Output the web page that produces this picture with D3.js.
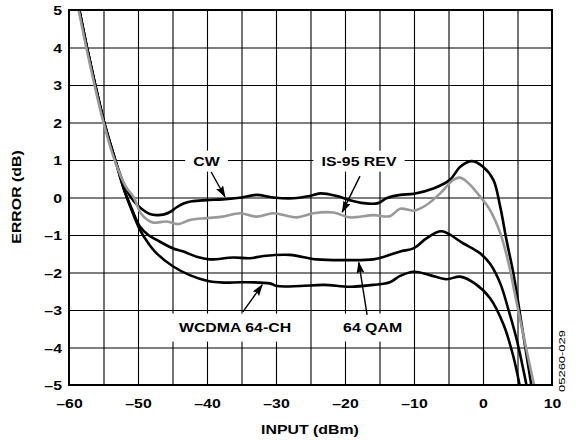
<!DOCTYPE html>
<html>
<head>
<meta charset="utf-8">
<script src="https://cdn.jsdelivr.net/npm/d3@7"></script>
<style>
  body { margin: 0; background: #fff; }
  svg { display: block; }
  text { font-family: Arial, "Liberation Sans", Helvetica, sans-serif; font-weight: bold; fill: #000; }
</style>
</head>
<body>
<svg id="chart" width="576" height="440"></svg>
<script>
// tick labels
const xTicks = [-60, -50, -40, -30, -20, -10, 0, 10];
const yTicks = [-5, -4, -3, -2, -1, 0, 1, 2, 3, 4, 5];
const xGrid = [-55, -50, -45, -40, -35, -30, -25, -20, -15, -10, -5, 0, 5];

// CW
const cwInput = [-58.5, -57.4, -56.2, -54.9, -53.3, -51.8, -50.6, -49.5, -48.3, -47.3, -46.2, -45.3, -44.4, -43.4, -42.2, -40, -37.7, -35, -32.8, -30.4, -27.5, -25.1, -23.6, -21.2, -19.3, -17.3, -15.2, -14, -12, -10, -7.2, -4.8, -3.3, -1.6, 0, 1.5, 2.5, 3.4, 4.4, 5.7, 7.0];
const cwError = [5, 4, 3, 2, 1, 0.25, -0.1, -0.3, -0.44, -0.47, -0.45, -0.38, -0.26, -0.16, -0.1, -0.07, -0.05, 0, 0.07, 0, -0.02, 0.04, 0.11, 0.04, -0.07, -0.15, -0.15, -0.02, 0.07, 0.1, 0.24, 0.47, 0.82, 0.97, 0.82, 0.47, -0.25, -1.13, -2.02, -3.5, -5];

// IS-95 REV
const is95Input = [-58.6, -57.5, -56.3, -55.0, -53.4, -51.8, -50.6, -49.6, -48.6, -47.8, -45.8, -44.2, -42.5, -40, -37.7, -35.2, -32.8, -30.4, -27, -24.6, -21.7, -19.3, -15.9, -13.5, -12, -10, -8.2, -6.2, -4.3, -3.3, -2.1, -0.4, 1.0, 2.5, 3.7, 4.6, 6.0, 7.4];
const is95Error = [5, 4, 3, 2, 1, 0.3, 0, -0.42, -0.6, -0.67, -0.64, -0.71, -0.6, -0.55, -0.51, -0.42, -0.51, -0.42, -0.53, -0.42, -0.4, -0.53, -0.47, -0.5, -0.3, -0.35, -0.2, 0.11, 0.47, 0.53, 0.38, 0.02, -0.33, -0.95, -1.75, -2.55, -3.8, -5];

// 64 QAM
const qamInput = [-58.5, -57.4, -56.2, -54.9, -53.3, -52.0, -50.9, -49.7, -48.5, -47.3, -44.9, -43.4, -41.5, -39.6, -36.2, -33.8, -31.8, -28, -24.1, -19.8, -15.9, -14, -12, -10, -8.2, -6.0, -2.9, -0.4, 1.0, 2.5, 3.7, 4.9, 6.3];
const qamError = [5, 4, 3, 2, 1, 0.2, -0.3, -0.78, -1.0, -1.13, -1.36, -1.44, -1.58, -1.65, -1.6, -1.62, -1.56, -1.53, -1.65, -1.67, -1.65, -1.56, -1.44, -1.35, -1.09, -0.9, -1.22, -1.49, -1.76, -2.29, -3.0, -3.8, -5];

// WCDMA 64-CH
const wcdmaInput = [-58.5, -57.4, -56.2, -54.9, -53.3, -52.0, -50.9, -49.7, -48.5, -47.3, -44.9, -42.5, -40, -37.6, -35, -30.9, -29.9, -26.5, -23.1, -19.3, -15.9, -13.5, -12, -10, -7.7, -5.3, -3.3, -1.2, 1, 3, 4.4, 5.3];
const wcdmaError = [5, 4, 3, 2, 1, 0.2, -0.35, -0.87, -1.22, -1.49, -1.84, -2.07, -2.22, -2.27, -2.26, -2.29, -2.36, -2.36, -2.33, -2.38, -2.33, -2.26, -2.09, -1.98, -2.07, -2.18, -2.11, -2.29, -2.68, -3.4, -4.24, -5];

// labels: text, centre (input, error), arrow start, arrow tip
const labelNames = ["CW", "IS-95 REV", "WCDMA 64-CH", "64 QAM"];
const labelAt = [[-40.07, 0.97], [-17.97, 0.97], [-35.94, -3.47], [-16.0, -3.47]];
const arrowFrom = [[-39.4, 0.68], [-17.83, 0.57], [-34.8, -3.05], [-16.8, -3.13]];
const arrowTo = [[-37.4, 0.02], [-20.4, -0.39], [-32.0, -2.33], [-18.0, -1.73]];

const stretch = 1.22;
const svg = d3.select("#chart");
const margin = { top: 10, left: 69 };
const width = 483, height = 375;

const x = d3.scaleLinear().domain([-60, 10]).range([0, width]);
const y = d3.scaleLinear().domain([-5, 5]).range([height, 0]);

const g = svg.append("g").attr("transform", `translate(${margin.left},${margin.top})`);

//grid
g.append("g")
  .attr("transform", `translate(0,${height})`)
  .call(d3.axisBottom(x).tickValues(xGrid).tickSize(-height).tickSizeOuter(0).tickFormat(""))
  .call((s) => s.select(".domain").remove())
  .call((s) => s.selectAll("line").attr("stroke", "#000").attr("stroke-width", 1.1));
g.append("g")
  .call(d3.axisLeft(y).tickValues(yTicks.slice(1, -1)).tickSize(-width).tickSizeOuter(0).tickFormat(""))
  .call((s) => s.select(".domain").remove())
  .call((s) => s.selectAll("line").attr("stroke", "#000").attr("stroke-width", 1.1));

//tick labels
const xAxis = g.append("g")
  .attr("transform", `translate(0,${height})`)
  .call(d3.axisBottom(x).tickValues(xTicks).tickSize(0).tickFormat((d) => (d < 0 ? "\u2013" + -d : d)));
xAxis.select(".domain").remove();
xAxis.selectAll("text")
  .attr("y", 23).attr("dy", 0)
  .attr("font-size", 13).attr("font-family", null)
  .attr("transform", `scale(${stretch},1)`);

const yAxis = g.append("g")
  .call(d3.axisLeft(y).tickValues(yTicks).tickSize(0).tickFormat((d) => (d < 0 ? "\u2013" + -d : d)));
yAxis.select(".domain").remove();
yAxis.selectAll("text")
  .attr("x", -7 / stretch).attr("dy", 4.5)
  .attr("font-size", 13).attr("font-family", null)
  .attr("transform", `scale(${stretch},1)`);

//label boxes and text
const labels = g.append("g");
labelNames.forEach((name, i) => {
  const cx = x(labelAt[i][0]), cy = y(labelAt[i][1]);
  const box = labels.append("rect").attr("fill", "#fff");
  const t = labels.append("text")
    .attr("transform", `translate(${cx},${cy + 4.6}) scale(${stretch},1)`)
    .attr("text-anchor", "middle")
    .attr("font-size", 13)
    .text(name);
  const w = t.node().getBBox().width * stretch;
  const padY = i < 2 ? 10.5 : 14;
  box.attr("x", cx - w / 2 - 8).attr("y", cy - padY).attr("width", w + 16).attr("height", padY * 2);
});

//curves
const clip = svg.append("defs").append("clipPath").attr("id", "plot-clip");
clip.append("rect").attr("width", width).attr("height", height);

const line = d3.line().x((d) => x(d[0])).y((d) => y(d[1])).curve(d3.curveCatmullRom.alpha(0.5));
const series = [
  { input: wcdmaInput, error: wcdmaError, color: "#000" },
  { input: qamInput, error: qamError, color: "#000" },
  { input: cwInput, error: cwError, color: "#000" },
  { input: is95Input, error: is95Error, color: "#999" },
];
const plot = g.append("g").attr("clip-path", "url(#plot-clip)");
plot.selectAll("path")
  .data(series)
  .enter()
  .append("path")
  .attr("d", (s) => line(s.input.map((v, i) => [v, s.error[i]])))
  .attr("fill", "none")
  .attr("stroke", (s) => s.color)
  .attr("stroke-width", 2.6)
  .attr("stroke-linejoin", "round");

//border
g.append("rect")
  .attr("width", width).attr("height", height)
  .attr("fill", "none").attr("stroke", "#000").attr("stroke-width", 2);

//arrows
svg.append("defs").append("marker")
  .attr("id", "arrowhead")
  .attr("markerUnits", "userSpaceOnUse")
  .attr("markerWidth", 12).attr("markerHeight", 8)
  .attr("refX", 11).attr("refY", 4)
  .attr("orient", "auto")
  .append("path").attr("d", "M0,0L12,4L0,8L2,4Z").attr("fill", "#000");
arrowFrom.forEach((a, i) => {
  g.append("line")
    .attr("x1", x(a[0])).attr("y1", y(a[1]))
    .attr("x2", x(arrowTo[i][0])).attr("y2", y(arrowTo[i][1]))
    .attr("stroke", "#000").attr("stroke-width", 1.4)
    .attr("marker-end", "url(#arrowhead)");
});

//axis titles
svg.append("text")
  .attr("transform", `translate(310,434) scale(${stretch},1)`)
  .attr("text-anchor", "middle").attr("font-size", 13)
  .text("INPUT (dBm)");
svg.append("text")
  .attr("transform", `translate(21,197) rotate(-90) scale(${stretch},1)`)
  .attr("text-anchor", "middle").attr("font-size", 13)
  .text("ERROR (dB)");
svg.append("text")
  .attr("transform", "translate(565,361) rotate(-90)")
  .attr("text-anchor", "middle").attr("font-size", 8.5)
  .style("font-weight", "normal")
  .attr("textLength", 62).attr("lengthAdjust", "spacingAndGlyphs")
  .text("05260-029");
</script>
</body>
</html>
